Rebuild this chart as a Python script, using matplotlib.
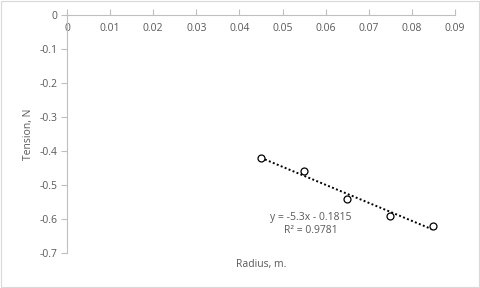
"""Tension vs radius scatter with linear trendline, Excel-like styling."""

import matplotlib

matplotlib.use("Agg")
import matplotlib.pyplot as plt
import numpy as np
from matplotlib.patches import Rectangle

RADIUS = [0.045, 0.055, 0.065, 0.075, 0.085]
TENSION = [-0.42, -0.46, -0.54, -0.59, -0.62]
X_TICKS = [0, 0.01, 0.02, 0.03, 0.04, 0.05, 0.06, 0.07, 0.08, 0.09]
X_TICK_LABELS = ["0", "0.01", "0.02", "0.03", "0.04", "0.05", "0.06", "0.07", "0.08", "0.09"]
Y_TICKS = [0, -0.1, -0.2, -0.3, -0.4, -0.5, -0.6, -0.7]
Y_TICK_LABELS = ["0", "-0.1", "-0.2", "-0.3", "-0.4", "-0.5", "-0.6", "-0.7"]

TEXT_COLOR = "#595959"
AXIS_COLOR = "#bfbfbf"

plt.rcParams["font.family"] = ["Open Sans", "DejaVu Sans"]

fig = plt.figure(figsize=(4.8, 2.88), dpi=100)
axis = fig.add_axes([67 / 480, 1 - 253 / 288, (455 - 67) / 480, (253 - 15) / 288])

axis.plot(RADIUS, TENSION, linestyle="none", marker="o", markersize=5,
          markerfacecolor="white", markeredgecolor="black", markeredgewidth=0.9, zorder=3)

slope, intercept = np.polyfit(RADIUS, TENSION, 1)
fit_x = np.array([min(RADIUS), max(RADIUS)])
axis.plot(fit_x, slope * fit_x + intercept, color="black", linestyle=(0, (1, 1.2)),
          linewidth=1.4, zorder=2)

r_squared = np.corrcoef(RADIUS, TENSION)[0, 1] ** 2
axis.text(0.0565, -0.578, f"y = {slope:.1f}x - {abs(intercept):.4f}\nR² = {r_squared:.4f}",
          ha="center", va="top", fontsize=7.5, color=TEXT_COLOR, linespacing=1.35)

axis.set_xlim(0, 0.09)
axis.set_ylim(-0.7, 0)
axis.set_xticks(X_TICKS, X_TICK_LABELS)
axis.set_yticks(Y_TICKS, Y_TICK_LABELS)

for side in ("top", "right"):
    axis.spines[side].set_visible(False)
axis.spines["bottom"].set_position(("data", 0))
axis.spines["bottom"].set_color(AXIS_COLOR)
axis.spines["left"].set_color(AXIS_COLOR)
axis.tick_params(axis="x", direction="in", length=4, color=AXIS_COLOR,
                 labelcolor=TEXT_COLOR, labelsize=7.5, pad=6)
axis.tick_params(axis="y", direction="out", length=4, color=AXIS_COLOR,
                 labelcolor=TEXT_COLOR, labelsize=7.5, pad=3)
for tick in axis.xaxis.get_major_ticks():
    tick.tick1line.set_clip_on(False)

fig.text(261 / 480, 1 - 264 / 288, "Radius, m.", ha="center", va="center",
         fontsize=7.5, color=TEXT_COLOR)
fig.text(28 / 480, 1 - 134 / 288, "Tension, N", ha="center", va="center",
         rotation=90, fontsize=7.5, color=TEXT_COLOR)

fig.patches.append(Rectangle((0.002, 0.003), 0.996, 0.994, transform=fig.transFigure,
                             fill=False, edgecolor="#d9d9d9", linewidth=0.8))

fig.savefig("out.png", dpi=100)
